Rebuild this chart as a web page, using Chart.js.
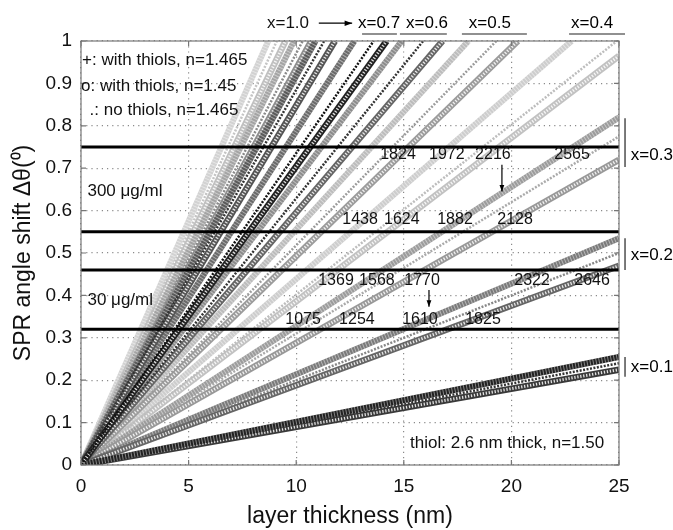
<!DOCTYPE html>
<html><head><meta charset="utf-8">
<script src="https://cdn.jsdelivr.net/npm/chart.js@4.4.1/dist/chart.umd.min.js"></script>
<style>html,body{margin:0;padding:0;background:#fff}</style>
</head><body>
<canvas id="c" width="673" height="530"></canvas>
<script>
// ---- data ----
const groupLabels = ['x=1.0','x=0.9','x=0.8','x=0.7','x=0.6','x=0.5','x=0.4','x=0.3','x=0.2','x=0.1'];
// end point of each straight curve (layer thickness in nm, SPR shift in deg)
const plusEndNm  = [8.7, 9.9, 10.9, 12.7, 14.9, 18.0, 22.8, 25, 25, 25];
const plusEndDeg = [1, 1, 1, 1, 1, 1, 1, 0.82, 0.535, 0.255];
const dotEndNm   = [9.1, 10.3, 11.3, 13.6, 15.9, 19.3, 24.9, 25, 25, 25];
const dotEndDeg  = [1, 1, 1, 1, 1, 1, 1, 0.775, 0.50, 0.24];
const circEndNm  = [9.5, 10.7, 11.8, 14.2, 16.8, 20.3, 25, 25, 25, 25];
const circEndDeg = [1, 1, 1, 1, 1, 1, 0.965, 0.72, 0.47, 0.225];
// concentration threshold lines
const thresholdDeg = [0.32, 0.46, 0.55, 0.75];
// crossing labels per threshold row
const row075Labels = ['1824','1972','2216','2565'];
const row055Labels = ['1438','1624','1882','2128'];
const row046Labels = ['1369','1568','1770','2322','2646'];
const row032Labels = ['1075','1254','1610','1825'];
const xTickValues = [0,5,10,15,20,25];

// ---- styles (not data) ----
const plusShade = ['#d2d2d2','#a4a4a4','#5a5a5a','#6a6a6a','#8c8c8c','#bcbcbc','#cdcdcd','#9c9c9c','#7a7a7a','#222'];
const dotShade  = ['#c4c4c4','#8a8a8a','#333','#111','#333','#9a9a9a','#bdbdbd','#aaa','#888','#333'];
const circShade = ['#c0c0c0','#8e8e8e','#555','#222','#666','#9c9c9c','#c2c2c2','#999','#666','#3a3a3a'];

function lum(c){const h=c.replace('#','');const f=h.length===3?h.split('').map(x=>x+x).join(''):h;return parseInt(f.slice(0,2),16);}

const datasets = [];
groupLabels.forEach((g,i)=>{
  datasets.push({label:g+' +', data:[{x:0,y:0},{x:plusEndNm[i],y:plusEndDeg[i]}], borderColor:plusShade[i], borderWidth:6, order:100+lum(plusShade[i])});
  datasets.push({label:g+' + tex', data:[{x:0,y:0},{x:plusEndNm[i],y:plusEndDeg[i]}], borderColor:'rgba(255,255,255,0.45)', borderWidth:6, borderDash:[1,2], order:99+lum(plusShade[i])});
  datasets.push({label:g+' o', data:[{x:0,y:0},{x:circEndNm[i],y:circEndDeg[i]}], borderColor:circShade[i], borderWidth:6.5, order:100+lum(circShade[i])});
  datasets.push({label:g+' o tex', data:[{x:0,y:0},{x:circEndNm[i],y:circEndDeg[i]}], borderColor:'rgba(255,255,255,0.85)', borderWidth:3, borderDash:[1.3,1.7], order:99+lum(circShade[i])});
  datasets.push({label:g+' .', data:[{x:0,y:0},{x:dotEndNm[i],y:dotEndDeg[i]}], borderColor:dotShade[i], borderWidth:2.5, borderDash:[2,1.5], order:98+lum(dotShade[i])});
});
thresholdDeg.forEach(v=>{
  datasets.push({label:'level '+v, data:[{x:0,y:v},{x:25,y:v}], borderColor:'#000', borderWidth:3, order:1});
});

const FONT = '"Liberation Sans", Arial, Helvetica, sans-serif';

const overlay = {
  id:'overlay',
  afterDatasetsDraw(chart){
    const ctx = chart.ctx, xs = chart.scales.x, ys = chart.scales.y;
    const P = (x,y)=>[xs.getPixelForValue(x), ys.getPixelForValue(y)];
    const L = xs.left, R = xs.right, T = ys.top, B = ys.bottom;
    ctx.save();
    // frame
    ctx.strokeStyle = '#777'; ctx.lineWidth = 1.2;
    ctx.strokeRect(L, T, R-L, B-T);
    // inner ticks
    ctx.beginPath();
    xTickValues.forEach(v=>{const px=xs.getPixelForValue(v); ctx.moveTo(px,B); ctx.lineTo(px,B-5); ctx.moveTo(px,T); ctx.lineTo(px,T+5);});
    ys.ticks.forEach(t=>{const py=ys.getPixelForValue(t.value); ctx.moveTo(L,py); ctx.lineTo(L+5,py); ctx.moveTo(R,py); ctx.lineTo(R-5,py);});
    ctx.stroke();

    ctx.fillStyle = '#111';
    ctx.textBaseline = 'middle';
    const text = (s,x,y,align,size)=>{ctx.font = (size||17)+'px '+FONT; ctx.textAlign = align||'left'; const p=P(x,y); ctx.fillText(s,p[0],p[1]);};
    // legend notes
    text('+: with thiols, n=1.465', 0.05, 0.955);
    text('o: with thiols, n=1.45', 0.0, 0.892);
    text('.: no thiols, n=1.465', 0.4, 0.837);
    text('300 \u03bcg/ml', 0.3, 0.645);
    text('30 \u03bcg/ml', 0.3, 0.389);
    text('thiol: 2.6 nm thick, n=1.50', 19.8, 0.052, 'center');
    // crossing labels
    const row = (labels, xsPos, y)=>labels.forEach((s,i)=>text(s, xsPos[i], y, 'center', 16));
    row(row075Labels, [14.73,17.0,19.14,22.82], 0.731);
    row(row055Labels, [12.97,14.91,17.38,20.17], 0.578);
    row(row046Labels, [11.85,13.75,15.85,20.96,23.75], 0.435);
    row(row032Labels, [10.32,12.82,15.75,18.68], 0.342);
    // arrows
    const arrow = (x1,y1,x2,y2,head)=>{
      const a=P(x1,y1), b=P(x2,y2);
      ctx.strokeStyle='#000'; ctx.lineWidth=1.2;
      ctx.beginPath(); ctx.moveTo(a[0],a[1]); ctx.lineTo(b[0],b[1]); ctx.stroke();
      const ang=Math.atan2(b[1]-a[1],b[0]-a[0]);
      ctx.beginPath(); ctx.moveTo(b[0],b[1]);
      ctx.lineTo(b[0]-head*Math.cos(ang-0.35), b[1]-head*Math.sin(ang-0.35));
      ctx.lineTo(b[0]-head*Math.cos(ang+0.35), b[1]-head*Math.sin(ang+0.35));
      ctx.closePath(); ctx.fillStyle='#000'; ctx.fill();
    };
    arrow(19.56,0.708,19.56,0.645,7);
    arrow(16.17,0.413,16.17,0.373,7);
    // top group labels
    ctx.fillStyle='#111';
    text(groupLabels[0], 9.62, 1.042, 'center');
    arrow(11.05,1.042,12.6,1.042,8);
    text(groupLabels[3], 13.85, 1.042, 'center');
    text(groupLabels[4], 16.08, 1.042, 'center');
    text(groupLabels[5], 19.0, 1.042, 'center');
    text(groupLabels[6], 23.75, 1.042, 'center');
    ctx.strokeStyle='#222'; ctx.lineWidth=1.2;
    const seg=(x1,y1,x2,y2)=>{const a=P(x1,y1),b=P(x2,y2);ctx.beginPath();ctx.moveTo(a[0],a[1]);ctx.lineTo(b[0],b[1]);ctx.stroke();};
    seg(13.06,1.0165,14.68,1.0165);
    seg(14.82,1.0165,17.0,1.0165);
    seg(17.7,1.0165,20.72,1.0165);
    seg(22.68,1.0165,25.28,1.0165);
    // right brackets
    seg(25.28,0.818,25.28,0.703); text(groupLabels[7], 25.55, 0.731);
    seg(25.28,0.535,25.28,0.46);  text(groupLabels[8], 25.55, 0.495);
    seg(25.28,0.255,25.28,0.208); text(groupLabels[9], 25.55, 0.231);
    ctx.restore();
  }
};

new Chart(document.getElementById('c'), {
  type:'scatter',
  data:{datasets},
  options:{
    responsive:false, animation:false, devicePixelRatio:1,
    layout:{padding:{left:0, right:54, top:41, bottom:0}},
    showLine:true,
    elements:{point:{radius:0}, line:{borderCapStyle:'butt', tension:0}},
    plugins:{legend:{display:false}, tooltip:{enabled:false}},
    scales:{
      x:{type:'linear', min:0, max:25,
        afterBuildTicks:s=>{s.ticks = xTickValues.map(v=>({value:v}));},
        ticks:{font:{size:19, family:FONT}, color:'#111', padding:10, maxRotation:0},
        grid:{color:'#8a8a8a', lineWidth:1.2, drawTicks:false},
        border:{display:false, dash:[1.2,4]},
        title:{display:true, text:'layer thickness (nm)', font:{size:23, family:FONT}, color:'#111', padding:{top:0,bottom:0}},
        afterFit:s=>{s.height = 65;}
      },
      y:{type:'linear', min:0, max:1,
        ticks:{stepSize:0.1, font:{size:19, family:FONT}, color:'#111', padding:9,
          callback:v=>String(Number(v.toFixed(1)))},
        grid:{color:'#8a8a8a', lineWidth:1.2, drawTicks:false},
        border:{display:false, dash:[1.2,4]},
        title:{display:true, text:'SPR angle shift \u0394\u03b8(\u2070)', font:{size:23, family:FONT}, color:'#111', padding:{top:10,bottom:0}},
        afterFit:s=>{s.width = 81;}
      }
    }
  },
  plugins:[overlay]
});
</script>
</body></html>
